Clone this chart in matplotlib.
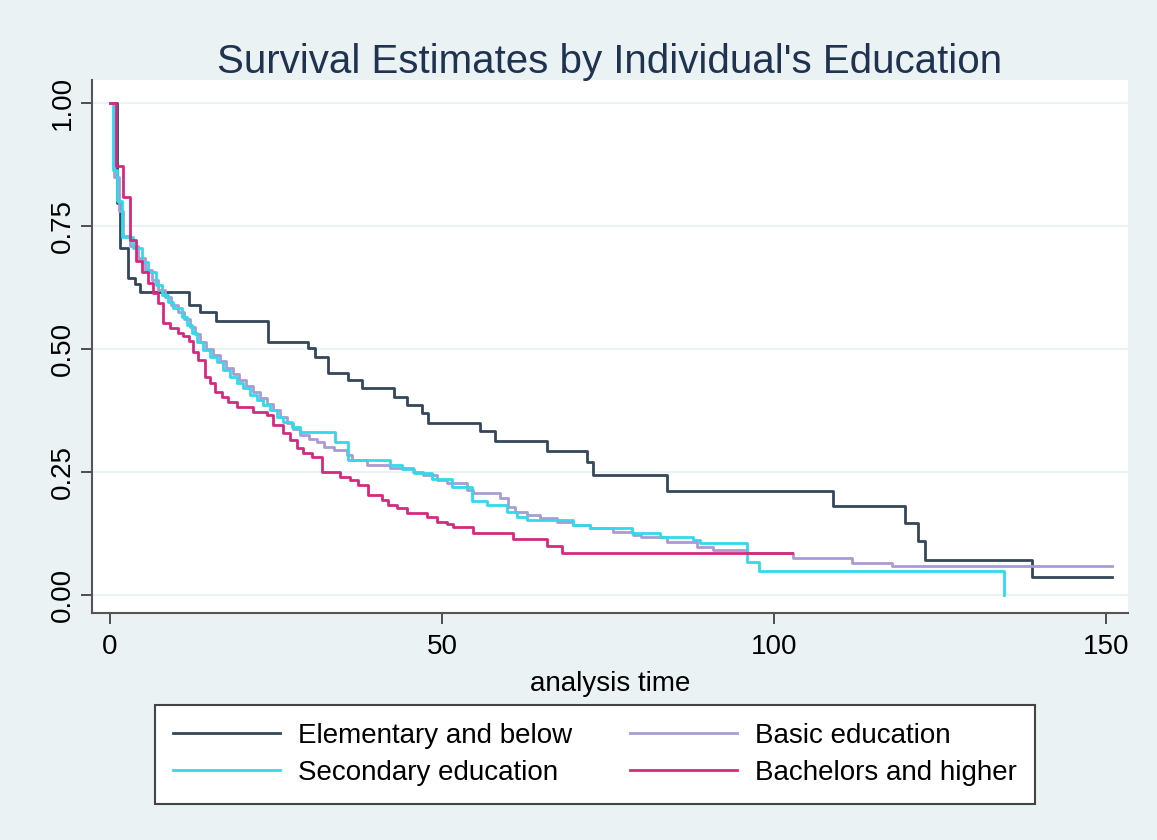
import numpy as np
import matplotlib
matplotlib.use("Agg")
import matplotlib.pyplot as plt

plt.rcParams["font.family"] = ["Liberation Sans", "DejaVu Sans"]

# Kaplan-Meier step estimates: (time of drop, new S)
elem_t = [0, 1.0, 1.5, 2.7, 3.8, 4.5, 11.9, 13.5, 16.0, 23.8, 29.8, 30.9, 32.8,
          35.8, 37.9, 42.8, 44.7, 47.0, 47.9, 55.7, 58.0, 65.8, 71.8, 72.7,
          83.9, 108.9, 119.7, 121.7, 122.7, 138.8]
elem_s = [1.0, 0.797, 0.705, 0.644, 0.632, 0.616, 0.589, 0.575, 0.557, 0.514,
          0.502, 0.484, 0.451, 0.437, 0.421, 0.402, 0.386, 0.370, 0.350, 0.333,
          0.313, 0.293, 0.270, 0.244, 0.211, 0.181, 0.146, 0.110, 0.071, 0.037]
elem_end = 150.9

basic_t = [0, 0.6, 1.3, 2.0, 3.0, 4.2, 5.3, 6.3, 7.3, 8.3, 9.2, 10.2, 11.2, 12.0,
           12.8, 13.6, 14.5, 15.5, 16.5, 17.5, 18.5, 19.5, 20.5, 21.6, 22.6,
           23.6, 24.6, 25.6, 26.6, 27.6, 28.6, 30.0, 31.2, 32.2, 33.7, 35.7,
           36.4, 38.7, 42.2, 45.6, 47.1, 49.2, 50.8, 53.8, 54.7, 58.7, 59.9,
           61.0, 62.8, 64.8, 67.3, 69.7, 72.3, 75.7, 78.8, 80.0, 83.9, 88.4,
           90.8, 95.9, 102.9, 111.7, 117.8]
basic_s = [1.0, 0.85, 0.78, 0.73, 0.71, 0.685, 0.66, 0.64, 0.62, 0.605, 0.59,
           0.575, 0.56, 0.545, 0.53, 0.515, 0.50, 0.487, 0.475, 0.462, 0.449,
           0.437, 0.425, 0.412, 0.40, 0.388, 0.375, 0.362, 0.35, 0.338, 0.326,
           0.317, 0.311, 0.301, 0.295, 0.285, 0.274, 0.264, 0.258, 0.25, 0.244,
           0.234, 0.228, 0.213, 0.207, 0.197, 0.179, 0.169, 0.163, 0.156, 0.148,
           0.142, 0.136, 0.128, 0.122, 0.118, 0.108, 0.098, 0.091, 0.085, 0.075,
           0.065, 0.059]
basic_end = 150.9

sec_t = [0, 0.5, 1.0, 1.8, 3.5, 4.8, 5.7, 6.9, 7.9, 8.7, 9.5, 10.8, 11.6, 12.3,
         13.1, 14.0, 15.1, 16.1, 17.0, 18.1, 19.1, 20.0, 21.1, 22.1, 23.0, 24.1,
         25.2, 26.1, 27.4, 28.6, 33.9, 35.8, 42.2, 44.0, 45.8, 48.5, 51.5, 54.5,
         56.8, 59.8, 61.3, 62.8, 69.7, 72.3, 78.6, 82.8, 87.8, 88.9, 95.9, 97.7,
         134.6]
sec_s = [1.0, 0.863, 0.801, 0.728, 0.705, 0.676, 0.656, 0.630, 0.610, 0.596,
         0.583, 0.565, 0.549, 0.533, 0.514, 0.498, 0.484, 0.474, 0.457, 0.443,
         0.431, 0.421, 0.407, 0.396, 0.386, 0.376, 0.362, 0.352, 0.341, 0.331,
         0.311, 0.274, 0.264, 0.256, 0.248, 0.235, 0.220, 0.190, 0.183, 0.169,
         0.159, 0.152, 0.142, 0.136, 0.126, 0.118, 0.112, 0.106, 0.067, 0.049,
         0.0]
sec_end = 134.6

bach_t = [0, 0.9, 1.9, 3.0, 3.9, 4.8, 5.7, 6.5, 7.2, 8.0, 9.0, 10.2, 11.0, 11.9,
          12.5, 13.3, 14.3, 15.1, 15.8, 16.9, 17.8, 19.1, 21.5, 23.6, 24.5, 26.1,
          27.1, 28.2, 29.1, 30.4, 31.9, 34.6, 36.1, 37.3, 38.9, 41.0, 41.9, 43.2,
          44.7, 47.7, 49.2, 50.8, 51.7, 54.7, 60.7, 65.8, 68.1]
bach_s = [1.0, 0.872, 0.809, 0.722, 0.679, 0.657, 0.634, 0.614, 0.594, 0.553,
          0.543, 0.533, 0.526, 0.516, 0.494, 0.478, 0.443, 0.431, 0.413, 0.402,
          0.392, 0.382, 0.372, 0.366, 0.346, 0.329, 0.315, 0.299, 0.289, 0.280,
          0.250, 0.240, 0.234, 0.224, 0.203, 0.193, 0.183, 0.177, 0.167, 0.159,
          0.148, 0.144, 0.138, 0.126, 0.114, 0.100, 0.085]
bach_end = 102.7

labels = ["Elementary and below", "Basic education",
          "Secondary education", "Bachelors and higher"]
colors = ["#34465a", "#a99bd3", "#33d8ea", "#d42a7d"]

bg = "#eaf2f3"
fig = plt.figure(figsize=(11.57, 8.4), dpi=100, facecolor=bg)
ax = fig.add_axes([92 / 1157, 1 - 613 / 840, (1128 - 92) / 1157, (613 - 80) / 840])
ax.set_facecolor("white")

series = [(elem_t, elem_s, elem_end), (basic_t, basic_s, basic_end),
          (sec_t, sec_s, sec_end), (bach_t, bach_s, bach_end)]
lines = []
for (t, s, end), lab, c in zip(series, labels, colors):
    tt = list(t) + [end]
    ss = list(s) + [s[-1]]
    ln, = ax.step(tt, ss, where="post", color=c, lw=2.0, label=lab)
    lines.append(ln)

ax.set_xlim(-2.7, 153.3)
ax.set_ylim(-0.037, 1.047)
ax.set_xticks([0, 50, 100, 150])
ax.set_yticks([0, 0.25, 0.5, 0.75, 1.0])
ax.set_yticklabels(["0.00", "0.25", "0.50", "0.75", "1.00"], rotation=90, va="center")
ax.tick_params(axis="both", labelsize=20, colors="#333333", length=8, width=1.2,
               labelcolor="black")
ax.tick_params(axis="x", pad=7)
ax.grid(axis="y", color=bg, lw=1.5)
ax.set_axisbelow(True)
for side in ["top", "right"]:
    ax.spines[side].set_visible(False)
for side in ["left", "bottom"]:
    ax.spines[side].set_color("#555555")
    ax.spines[side].set_linewidth(1.5)

ax.set_xlabel("analysis time", fontsize=20, labelpad=8)
fig.text(0.527, 1 - 62 / 840, "Survival Estimates by Individual's Education",
         ha="center", va="center", fontsize=29, color="#1f3350")

# column-major fill so rows read Elementary|Basic, Secondary|Bachelors
order = [lines[0], lines[2], lines[1], lines[3]]
leg = fig.legend(order, [l.get_label() for l in order], ncol=2,
                 loc="upper left", bbox_to_anchor=(155 / 1157, 1 - 705 / 840, 880 / 1157, 0),
                 mode="expand", fontsize=20, frameon=True, fancybox=False,
                 handlelength=3.85, handletextpad=0.65, labelspacing=0.4,
                 borderpad=0.65, borderaxespad=0, framealpha=1)
leg.get_frame().set_facecolor("white")
leg.get_frame().set_edgecolor("#444444")
leg.get_frame().set_linewidth(1.5)

fig.savefig("out.png", dpi=100, facecolor=bg)
